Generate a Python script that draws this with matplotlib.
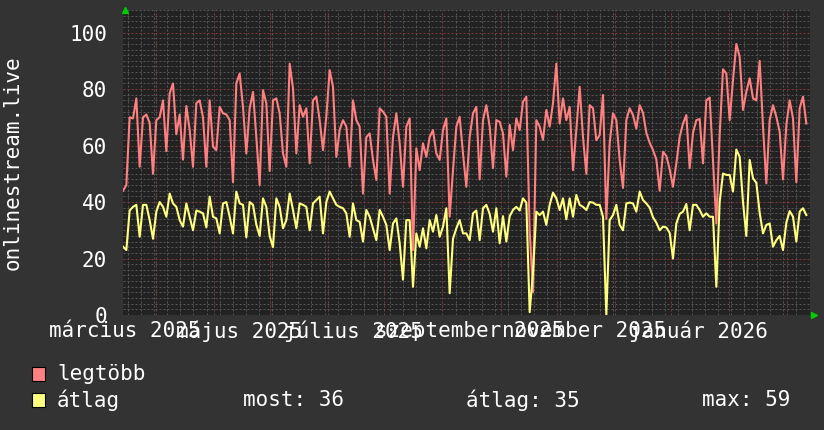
import numpy as np
import matplotlib
matplotlib.use("Agg")
import matplotlib.pyplot as plt
import matplotlib.dates as mdates
from matplotlib.ticker import MultipleLocator, NullFormatter
from matplotlib.patches import Rectangle
from datetime import datetime, timedelta

# ---------------- data ----------------
legtobb = [44, 46, 70, 69.6, 76.7, 52.5, 70, 71, 68, 50, 69, 70, 76, 58, 78.5, 82, 64, 71, 55, 74,
           65.5, 52.5, 75, 76, 70, 52.5, 76, 59.6, 58.4, 73.7, 71.4, 71, 69, 47, 82, 85.5, 73.7, 57.2, 73.2, 79,
           63, 46, 79.6, 75, 51, 76, 76.7, 71.4, 57.2, 52.5, 89, 80.2, 57.2, 74.3, 70.2, 73.2, 53.7, 76, 77.3, 69,
           58.4, 70.2, 86.7, 80.8, 56, 65.5, 69, 66.7, 52.5, 76, 69, 66.7, 43, 63, 64.3, 54.9, 47.8, 73.2, 72, 70.2,
           43, 63, 71.4, 60.8, 45.4, 66.7, 69.6, 23, 59, 51.3, 60.8, 56, 63, 65.5, 57.2, 54.9, 65.5, 69.6, 34.8, 51.3,
           66.7, 70.2, 57.2, 45.4, 63, 71.4, 73.7, 48, 69, 74.3, 66.7, 52, 69, 68.4, 64.3, 49, 67.3, 58.4, 69.6, 65.5,
           75.5, 77.3, 30, 8, 69, 66.7, 62, 72.6, 66.7, 75, 89, 67.8, 76.7, 69, 73.7, 51.3, 65.5, 80.8, 63, 50,
           74.3, 73.2, 61.9, 63.7, 77.9, 34, 60.8, 71.4, 69, 54.9, 45, 69, 73.2, 70.8, 66, 74.3, 71.6, 64.5, 61, 58.4,
           55.1, 44, 57.8, 56.3, 51.6, 45.4, 53.7, 63, 67.8, 70.8, 52, 64.5, 69, 69.4, 53.7, 76, 77, 54.9, 32.4, 63.7,
           87, 85.5, 69, 83.2, 96, 91.4, 72.6, 79, 83.8, 76.7, 76, 90, 66.7, 46.6, 69, 74.3, 70.2, 64.9, 48, 67.3,
           76, 69.6, 47, 73.2, 77.3, 67.8]
atlag = [24.2, 23, 37, 38.3, 39, 27.7, 39, 39, 33.6, 27, 36.6, 40, 38.3, 34.8, 43, 39.5, 38.3, 33.6, 31.3, 39.5,
         34.8, 30, 37, 36.6, 36, 31, 41.9, 34.8, 34.2, 28.9, 39.5, 40, 34.8, 28.9, 43.7, 39.5, 39, 27.5, 40, 39,
         32, 28, 41.3, 38.3, 28, 24, 41.3, 38.3, 30.7, 33.6, 43, 37.2, 30.7, 39.5, 39, 38.3, 30, 39.5, 40.7, 41.9,
         28.9, 40, 43.7, 41.3, 39, 38.3, 37.8, 36, 27.7, 39.5, 33.6, 33, 26, 37.2, 34.8, 30.7, 26.5, 37.2, 34.8, 31.9,
         23, 32.4, 34.2, 25.4, 12.5, 33.6, 33.6, 10, 28.9, 24.2, 30.7, 23.6, 33.6, 29.5, 35.4, 27.7, 31.3, 37.8, 7.7, 27,
         30.7, 33.6, 28.9, 28.9, 26.5, 36, 37, 26.5, 37.8, 39, 35.8, 29.5, 37.8, 25.4, 35, 26, 35, 37.2, 38.3, 37,
         41.3, 39.8, 1, 15, 36.6, 35.4, 36.6, 31.9, 39, 43.3, 41.3, 37.2, 41.3, 33.9, 41.3, 34.8, 42.5, 39, 38.3, 37.2,
         40, 39.8, 39, 39, 34.8, 0, 33.6, 35.4, 39, 31.9, 30, 39.5, 39.8, 39.5, 36.6, 43.7, 40.7, 39.5, 38, 34.6,
         32.7, 30, 31.3, 31, 29.1, 20, 32.4, 35.8, 36.6, 39.3, 30, 39, 39, 37.2, 34.8, 36, 34.8, 34.8, 10, 40,
         50.1, 49.6, 49.6, 43.7, 58.6, 56, 40, 28, 54.9, 48.4, 46.8, 36.2, 28.9, 31.9, 32.4, 24.2, 26.5, 28, 23, 32.7,
         36.8, 34.8, 26, 36.6, 37.8, 35.4]

month_labels = ["március 2025", "május 2025", "július 2025", "szeptember 2025", "november 2025", "január 2026"]
label_months = [(2025, 3), (2025, 5), (2025, 7), (2025, 9), (2025, 11), (2026, 1)]
y_label = "onlinestream.live"
series_names = ["legtöbb", "átlag"]
series_colors = ["#ff8080", "#ffff80"]
stat_names = ["most", "átlag", "max"]
stat_values = [36, 35, 59]

# ---------------- layout ----------------
W, H = 824, 430
L, R, T, B = 123, 810, 10, 315
FONT = "DejaVu Sans Mono"
FS = 15
TXT = "#ffffff"

fig = plt.figure(figsize=(W / 100, H / 100), dpi=100, facecolor="#333333")
ax = fig.add_axes([L / W, 1 - B / H, (R - L) / W, (B - T) / H])
ax.set_facecolor("#222222")

px_per_day = 1.8725
start = datetime(2025, 2, 11, 9)
step = timedelta(days=(10 / 3) / px_per_day)
t = [start + i * step for i in range(len(legtobb))]
end = start + timedelta(days=(R - L) / px_per_day)

ax.set_xlim(start, end)
ax.set_ylim(0, 108)

# grid
ax.yaxis.set_major_locator(MultipleLocator(20))
ax.yaxis.set_minor_locator(MultipleLocator(2))
ax.xaxis.set_major_locator(mdates.MonthLocator())
ax.xaxis.set_minor_locator(mdates.WeekdayLocator(byweekday=mdates.FR))
ax.xaxis.set_major_formatter(NullFormatter())
ax.xaxis.set_minor_formatter(NullFormatter())
ax.grid(which="minor", color="#575757", linestyle=(0, (2, 2)), linewidth=0.72)
ax.grid(which="major", color="#803c3c", linestyle=(0, (2, 2)), linewidth=0.72)
ax.set_axisbelow(True)
ax.tick_params(axis="both", which="both", length=0)
ax.tick_params(axis="y", pad=11.5, labelsize=FS, labelcolor=TXT)
for lab in ax.get_yticklabels():
    lab.set_family(FONT)
for s in ax.spines.values():
    s.set_visible(False)

ax.plot(t, legtobb, color=series_colors[0], lw=1.5, zorder=3)
ax.plot(t, atlag, color=series_colors[1], lw=1.5, zorder=4)

# arrows
ax.plot([0.0025], [1.0], marker="^", ms=5, color="#00cc00", transform=ax.transAxes, clip_on=False, zorder=5)
ax.plot([1.0055], [0.0], marker=">", ms=5, color="#00cc00", transform=ax.transAxes, clip_on=False, zorder=5)

# x labels
for (yy, mm), lab in zip(label_months, month_labels):
    xd = mdates.date2num(datetime(yy, mm, 1)) - 16.5
    xf = fig.transFigure.inverted().transform(ax.transData.transform((xd, 0)))[0]
    fig.text(xf, 1 - 331 / H, lab, ha="center", va="center", fontsize=FS, family=FONT, color=TXT)

# y label
fig.text(13 / W, 1 - (T + B) / 2 / H, y_label, rotation=90, ha="center", va="center",
         fontsize=FS, family=FONT, color=TXT)

# legend
rows_y = [374, 400]
for name, col, yc in zip(series_names, series_colors, rows_y):
    fig.patches.append(Rectangle((32 / W, 1 - (yc + 7) / H), 13 / W, 14 / H, transform=fig.transFigure,
                                 facecolor=col, edgecolor="black", lw=0.8))
    fig.text(57 / W, 1 - yc / H, name, ha="left", va="center", fontsize=FS, family=FONT, color=TXT)

stat_x = [243, 466, 702]
for nm, v, xs in zip(stat_names, stat_values, stat_x):
    fig.text(xs / W, 1 - rows_y[1] / H, f"{nm}: {v}", ha="left", va="center", fontsize=FS, family=FONT, color=TXT)

fig.savefig("out.png", dpi=100, facecolor=fig.get_facecolor())
